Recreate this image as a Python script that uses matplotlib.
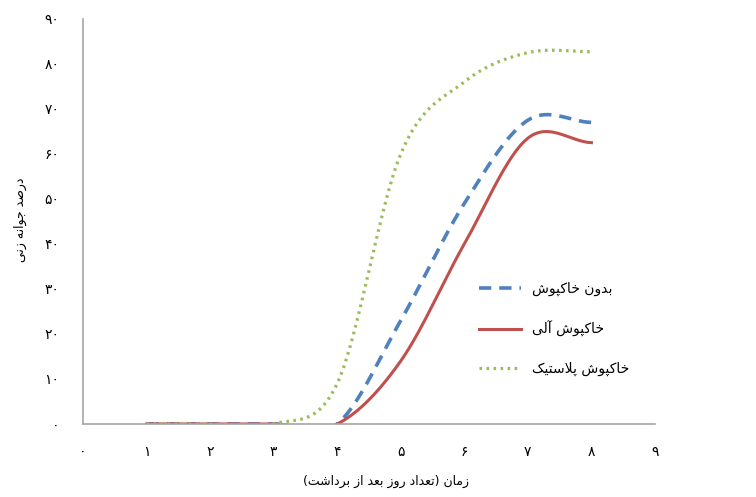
import numpy as np
import matplotlib.pyplot as plt

# days after harvest and germination percent per mulch type
days = [1, 2, 3, 4, 5, 6, 7, 8]
no_mulch = [0, 0, 0, 0, 23, 49, 67.5, 67]
organic = [0, 0, 0, 0, 14, 40, 63.5, 62.5]
plastic = [0, 0, 0, 9, 60, 76, 82.5, 82.7]

series_names = ["بدون خاکپوش", "خاکپوش آلی", "خاکپوش پلاستیک"]
x_title = "زمان (تعداد روز بعد از برداشت)"
y_title = "درصد جوانه زنی"
x_ticks = list(range(0, 10))
y_ticks = list(range(0, 100, 10))

# Arabic presentation forms: (isolated, final, initial, medial)
FORMS = {
    'ب': '\uFE8F\uFE90\uFE91\uFE92', 'پ': '\uFB56\uFB57\uFB58\uFB59',
    'ت': '\uFE95\uFE96\uFE97\uFE98', 'ج': '\uFE9D\uFE9E\uFE9F\uFEA0',
    'خ': '\uFEA5\uFEA6\uFEA7\uFEA8', 'س': '\uFEB1\uFEB2\uFEB3\uFEB4',
    'ش': '\uFEB5\uFEB6\uFEB7\uFEB8', 'ص': '\uFEB9\uFEBA\uFEBB\uFEBC',
    'ع': '\uFEC9\uFECA\uFECB\uFECC', 'ک': '\uFB8E\uFB8F\uFB90\uFB91',
    'ل': '\uFEDD\uFEDE\uFEDF\uFEE0', 'م': '\uFEE1\uFEE2\uFEE3\uFEE4',
    'ن': '\uFEE5\uFEE6\uFEE7\uFEE8', 'ه': '\uFEE9\uFEEA\uFEEB\uFEEC',
    'ی': '\uFBFC\uFBFD\uFBFE\uFBFF',
    'ا': '\uFE8D\uFE8E', 'آ': '\uFE81\uFE82', 'د': '\uFEA9\uFEAA',
    'ر': '\uFEAD\uFEAE', 'ز': '\uFEAF\uFEB0', 'و': '\uFEED\uFEEE',
}
LAM_ALEF = {'ا': '\uFEFB\uFEFC', 'آ': '\uFEF5\uFEF6'}


def shape(text):
    out = []
    i = 0
    prev_joins = False
    while i < len(text):
        c = text[i]
        if c not in FORMS:
            out.append({'(': ')', ')': '('}.get(c, c))
            prev_joins = False
            i += 1
            continue
        if c == 'ل' and i + 1 < len(text) and text[i + 1] in LAM_ALEF:
            out.append(LAM_ALEF[text[i + 1]][1 if prev_joins else 0])
            prev_joins = False
            i += 2
            continue
        f = FORMS[c]
        nxt = text[i + 1] if i + 1 < len(text) else ''
        next_joins = len(f) == 4 and nxt in FORMS
        if prev_joins and next_joins:
            out.append(f[3])
        elif prev_joins:
            out.append(f[1])
        elif next_joins:
            out.append(f[2])
        else:
            out.append(f[0])
        prev_joins = len(f) == 4
        i += 1
    return ''.join(reversed(out))


def fa_digits(n):
    return str(n).translate(str.maketrans('0123456789', '۰۱۲۳۴۵۶۷۸۹'))


def smooth(x, y, n=40):
    # catmull-rom like Excel's smoothed line
    x = np.asarray(x, float)
    y = np.asarray(y, float)
    px = np.concatenate([[2 * x[0] - x[1]], x, [2 * x[-1] - x[-2]]])
    py = np.concatenate([[y[0]], y, [y[-1]]])
    xs, ys = [], []
    t = np.linspace(0, 1, n)
    for k in range(1, len(px) - 2):
        for p, arr in ((px, xs), (py, ys)):
            p0, p1, p2, p3 = p[k - 1], p[k], p[k + 1], p[k + 2]
            m1 = (p2 - p0) / 2
            m2 = (p3 - p1) / 2
            h = ((2 * t**3 - 3 * t**2 + 1) * p1 + (t**3 - 2 * t**2 + t) * m1
                 + (-2 * t**3 + 3 * t**2) * p2 + (t**3 - t**2) * m2)
            arr.extend(h)
    return np.array(xs), np.array(ys)


plt.rcParams['font.family'] = ['DejaVu Sans']

fig = plt.figure(figsize=(7.56, 4.97), dpi=100)
ax = fig.add_axes([0.1098, 0.147, 0.7566, 0.815])

styles = [
    (no_mulch, '#4F81BD', (0, (3.4, 2.2)), 2.6),
    (organic, '#C0504D', '-', 2.2),
    (plastic, '#9BBB59', (0, (0.8, 1.4)), 2.3),
]
for (vals, color, ls, lw), name in zip(styles, series_names):
    sx, sy = smooth(days, vals)
    ax.plot(sx, sy, color=color, linestyle=ls, linewidth=lw, label=shape(name))

ax.set_xlim(0, 9)
ax.set_ylim(0, 90)
ax.set_xticks(x_ticks)
ax.set_xticklabels([fa_digits(v) for v in x_ticks], fontsize=10)
ax.set_yticks(y_ticks)
ax.set_yticklabels([fa_digits(v) for v in y_ticks], fontsize=10)
ax.tick_params(axis='both', length=0)
ax.tick_params(axis='x', pad=15)
ax.tick_params(axis='y', pad=17)

for side in ['top', 'right']:
    ax.spines[side].set_visible(False)
for side in ['left', 'bottom']:
    ax.spines[side].set_color('#a6a6a6')
    ax.spines[side].set_linewidth(1.2)

fig.text(0.51, 0.018, shape(x_title), ha='center', va='bottom', fontsize=9)
fig.text(0.027, 0.557, shape(y_title), ha='center', va='center', rotation=90, fontsize=9)

fig.legend(loc='upper left', bbox_to_anchor=(0.634, 0.433), frameon=False,
           fontsize=10, handlelength=3.0, labelspacing=1.8, handletextpad=0.8,
           borderpad=0, borderaxespad=0)

plt.savefig('out.png', dpi=100)
